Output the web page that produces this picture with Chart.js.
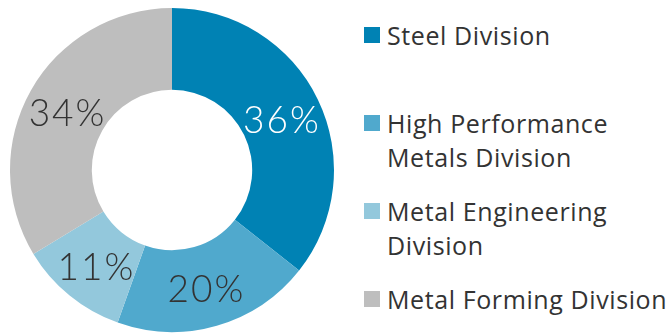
<!DOCTYPE html>
<html>
<head>
<meta charset="utf-8">
<script src="https://cdn.jsdelivr.net/npm/chart.js@4/dist/chart.umd.min.js"></script>
<style>
  html, body { margin: 0; padding: 0; background: #fff; }
  #wrap { position: relative; width: 669px; height: 333px; overflow: hidden; }
  #chartBox { position: absolute; left: 0; top: 0; width: 344px; height: 333px; }
  #legend { position: absolute; left: 364px; top: 18px; margin: 0; padding: 0; list-style: none;
    font-family: "Open Sans", sans-serif; font-size: 25px; letter-spacing: 0.6px; color: #333; }
  #legend li { height: 88px; display: flex; align-items: flex-start; }
  #legend .box { width: 16px; height: 16px; margin-top: 9px; margin-right: 7px; flex: none; }
  #legend .txt { line-height: 34px; white-space: nowrap; }
</style>
</head>
<body>
<div id="wrap">
  <div id="chartBox"><canvas id="c"></canvas></div>
  <ul id="legend"></ul>
</div>
<script>
const categories = ["Steel Division", "High Performance Metals Division", "Metal Engineering Division", "Metal Forming Division"];
const legendLines = [["Steel Division"], ["High Performance", "Metals Division"], ["Metal Engineering", "Division"], ["Metal Forming Division"]];
const shares = [36, 20, 11, 34];
const colors = ["#0082B4", "#50A9CD", "#93C8DC", "#BEBEBE"];
const labelColors = ["#ffffff", "#333333", "#333333", "#333333"];

const legendEl = document.getElementById('legend');
legendLines.forEach((lines, i) => {
  const li = document.createElement('li');
  const box = document.createElement('span');
  box.className = 'box';
  box.style.background = colors[i];
  const txt = document.createElement('span');
  txt.className = 'txt';
  txt.innerHTML = lines.join('<br>');
  li.appendChild(box);
  li.appendChild(txt);
  legendEl.appendChild(li);
});

const pctLabels = {
  id: 'pctLabels',
  afterDatasetsDraw(chart) {
    const ctx = chart.ctx;
    const meta = chart.getDatasetMeta(0);
    ctx.save();
    ctx.font = '300 37px Lato, "Open Sans", sans-serif';
    ctx.letterSpacing = '2px';
    ctx.textAlign = 'center';
    ctx.textBaseline = 'middle';
    meta.data.forEach((arc, i) => {
      const p = arc.tooltipPosition();
      ctx.fillStyle = labelColors[i];
      ctx.fillText(shares[i] + '%', p.x + 1, p.y + 4);
    });
    ctx.restore();
  }
};

new Chart(document.getElementById('c'), {
  type: 'doughnut',
  data: {
    labels: categories,
    datasets: [{
      data: shares,
      backgroundColor: colors,
      borderWidth: 0,
      hoverOffset: 0
    }]
  },
  options: {
    responsive: true,
    maintainAspectRatio: false,
    animation: false,
    cutout: '49.5%',
    layout: { padding: { top: 8, bottom: 1, left: 0, right: 0 } },
    plugins: {
      legend: { display: false },
      tooltip: { enabled: false }
    }
  },
  plugins: [pctLabels]
});
</script>
</body>
</html>
